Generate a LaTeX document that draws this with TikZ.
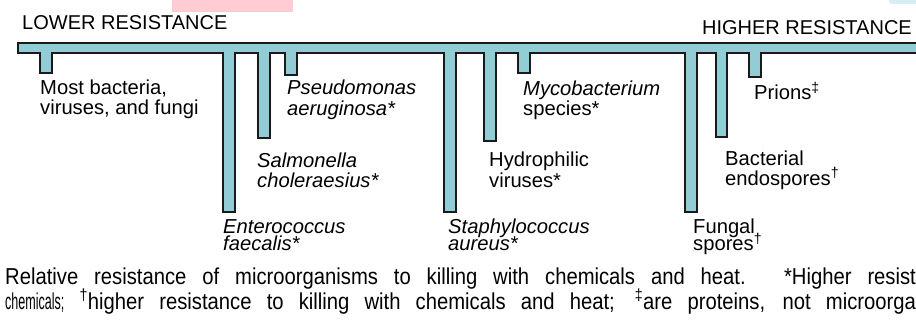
\documentclass[tikz,border=0pt]{standalone}
\usepackage{fontspec}
\setmainfont{Liberation Sans}
\definecolor{barfill}{HTML}{92CDD5}
\definecolor{barline}{HTML}{1A1A1A}
\definecolor{pinkbox}{HTML}{FFCCD3}
\definecolor{bluebox}{HTML}{D6EEF3}
\newcommand\twoline[3][20]{\vtop{\baselineskip=#1pt\lineskiplimit=-100pt\hbox{#2}\hbox{#3}}}
\newcommand\capline[1]{\scalebox{0.88}[1]{\makebox[1035pt][s]{#1}}}
\tikzset{
  comb/.style={fill=barfill, draw=barline, line width=1.6pt, line join=miter},
  lab/.style={anchor=base west, inner sep=0pt, font=\fontsize{20.2}{20}\selectfont},
  headtext/.style={inner sep=0pt, font=\fontsize{20}{20}\selectfont},
  captext/.style={anchor=base west, inner sep=0pt, font=\fontsize{23}{23}\selectfont}
}
\begin{document}
\begin{tikzpicture}[x=1pt,y=-1pt]
\useasboundingbox (0,0) rectangle (916,320);
\clip (0,0) rectangle (916,320);
\fill[white] (0,0) rectangle (916,320);
\fill[pinkbox] (172,-2) rectangle (293,12);
\fill[bluebox, rounded corners=3pt] (889,-6) rectangle (926,4);
% comb
\draw[comb] (18,43) -- (926,43) -- (926,53)
 -- (761,53) -- (761,77) -- (749,77) -- (749,53)
 -- (727,53) -- (727,137) -- (716,137) -- (716,53)
 -- (697,53) -- (697,212) -- (685,212) -- (685,53)
 -- (530,53) -- (530,73) -- (518,73) -- (518,53)
 -- (496,53) -- (496,141) -- (484,141) -- (484,53)
 -- (456,53) -- (456,212) -- (444,212) -- (444,53)
 -- (297,53) -- (297,75) -- (285,75) -- (285,53)
 -- (270,53) -- (270,138) -- (258,138) -- (258,53)
 -- (235,53) -- (235,212) -- (223,212) -- (223,53)
 -- (52,53) -- (52,73) -- (40,73) -- (40,53)
 -- (18,53) -- cycle;
% headings
\node[headtext, anchor=base west] (low) at (22,30) {LOWER RESISTANCE};
\node[headtext, anchor=base east] (high) at (912,35) {HIGHER RESISTANCE};
% labels
\node[lab] (most) at (40,94.5) {\twoline[20.5]{Most bacteria,}{viruses, and fungi}};
\node[lab] (pseudo) at (287,95) {\itshape\twoline[20.5]{Pseudomonas}{aeruginosa*}};
\node[lab] (myco) at (523,95.5) {\twoline[20.5]{\itshape Mycobacterium}{species*}};
\node[lab] (prions) at (754,100) {Prions\textsuperscript{‡}};
\node[lab] (salm) at (257,168) {\itshape\twoline[19.5]{Salmonella}{choleraesius*}};
\node[lab] (hydro) at (489,167) {\twoline[20.5]{Hydrophilic}{viruses*}};
\node[lab] (bact) at (725,166) {\twoline[19.5]{Bacterial}{endospores\textsuperscript{†}}};
\node[lab] (entero) at (223,234) {\itshape\twoline[17]{Enterococcus}{faecalis*}};
\node[lab] (staph) at (448,234) {\itshape\twoline[17]{Staphylococcus}{aureus*}};
\node[lab] (fungal) at (693,234) {\twoline[17]{Fungal}{spores\textsuperscript{†}}};
% caption
\node[captext] (cap1) at (5,285) {\capline{Relative resistance of microorganisms to killing with chemicals and heat. *Higher resist}};
\node[captext] (cap2) at (5,310) {\capline{\scalebox{0.62}[1]{chemicals;} \textsuperscript{†}higher resistance to killing with chemicals and heat; \textsuperscript{‡}are proteins, not microorga}};
\end{tikzpicture}
\end{document}
